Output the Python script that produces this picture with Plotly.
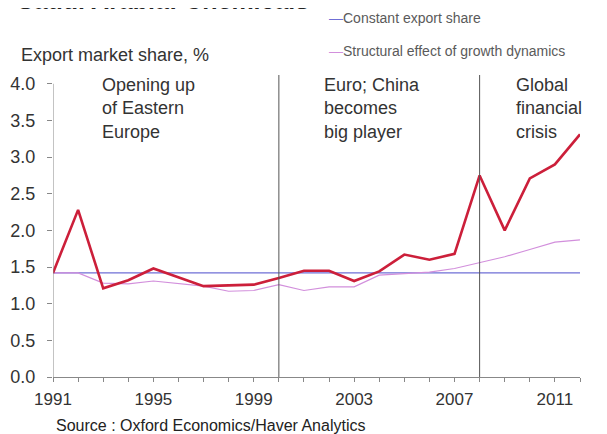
import plotly.graph_objects as go

years = list(range(1991, 2013))
actual_share = [1.42, 2.28, 1.21, 1.32, 1.48, 1.36, 1.24, 1.25, 1.26, 1.35, 1.45, 1.45,
                1.31, 1.44, 1.67, 1.60, 1.68, 2.75, 2.00, 2.71, 2.90, 3.31]
constant_share = [1.42] * 22
structural_effect = [1.42, 1.42, 1.28, 1.27, 1.31, 1.27, 1.24, 1.17, 1.18, 1.26, 1.18, 1.23,
                     1.23, 1.39, 1.41, 1.43, 1.48, 1.56, 1.64, 1.74, 1.84, 1.87]
tick_years = [1991, 1995, 1999, 2003, 2007, 2011]
event_years = [2000, 2008]
event_labels = [(1992.86, "Opening up<br>of Eastern<br>Europe"),
                (2001.72, "Euro; China<br>becomes<br>big player"),
                (2009.37, "Global<br>financial<br>crisis")]

FONT = "Liberation Sans, Arial, sans-serif"
TXT = "#333333"
BLUE = "#6f6fd6"
PURPLE = "#d28fdc"
RED = "#cc1f3a"

fig = go.Figure()
fig.add_trace(go.Scatter(x=years, y=constant_share, mode="lines",
                         line=dict(color=BLUE, width=1.2), name="Constant export share"))
fig.add_trace(go.Scatter(x=years, y=structural_effect, mode="lines",
                         line=dict(color=PURPLE, width=1.2), name="Structural effect of growth dynamics"))
fig.add_trace(go.Scatter(x=years, y=actual_share, mode="lines",
                         line=dict(color=RED, width=2.6), name="Actual"))

shapes = []
for ey in event_years:
    shapes.append(dict(type="line", xref="x", yref="paper", x0=ey, x1=ey, y0=0, y1=1,
                       line=dict(color="#555555", width=1)))
# y axis line up to 4.0
shapes.append(dict(type="line", xref="x", yref="y", x0=1991, x1=1991, y0=0, y1=4.0,
                   line=dict(color="#888888", width=1)))

annotations = []
for x, t in event_labels:
    annotations.append(dict(x=x, y=1.0, xref="x", yref="paper", yshift=2, text=t, showarrow=False,
                            xanchor="left", yanchor="top", align="left",
                            font=dict(family=FONT, size=18, color=TXT)))
annotations.append(dict(x=0.0, y=1.0, xref="paper", yref="paper", xanchor="left", xshift=-34,
                        yanchor="middle", yshift=20, text="Export market share, %",
                        showarrow=False, font=dict(family=FONT, size=18, color=TXT)))
annotations.append(dict(xref="paper", yref="paper", x=0.0, xshift=-38, y=1.0, yshift=58.5,
                        xanchor="left", yanchor="bottom", text="<b>Saudi Arabia: Chemicals</b>",
                        showarrow=False, font=dict(family=FONT, size=25, color="#222222")))
annotations.append(dict(xref="paper", yref="paper", x=0.0, xshift=274, y=1.0, yshift=57,
                        xanchor="left", yanchor="middle",
                        text="<span style='color:%s'>—</span>Constant export share" % BLUE,
                        showarrow=False, font=dict(family=FONT, size=14, color="#5a5a5a")))
annotations.append(dict(xref="paper", yref="paper", x=0.0, xshift=274, y=1.0, yshift=24,
                        xanchor="left", yanchor="middle",
                        text="<span style='color:%s'>—</span>Structural effect of growth dynamics" % PURPLE,
                        showarrow=False, font=dict(family=FONT, size=14, color="#5a5a5a")))
annotations.append(dict(xref="paper", yref="paper", x=0.0, xshift=1, y=0.0, yshift=-48,
                        xanchor="left", yanchor="middle", text="Source : Oxford Economics/Haver Analytics",
                        showarrow=False, font=dict(family=FONT, size=16, color="#222222")))

fig.update_layout(
    width=607, height=434,
    margin=dict(l=45, r=35, t=67, b=65),
    paper_bgcolor="white", plot_bgcolor="white",
    showlegend=False,
    font=dict(family=FONT, size=17, color=TXT),
    shapes=shapes, annotations=annotations,
    xaxis=dict(range=[1991, 2012], tickmode="array", tickvals=years,
               ticktext=[str(y) if y in tick_years else "" for y in years],
               ticks="outside", ticklen=4, tickcolor="#888888",
               showline=True, linecolor="#888888", linewidth=1,
               showgrid=False, zeroline=False, ticklabelstandoff=3, automargin=False,
               tickfont=dict(family=FONT, size=17, color=TXT)),
    yaxis=dict(range=[0, 4.12], tickmode="array", tickvals=[0, 0.5, 1, 1.5, 2, 2.5, 3, 3.5, 4],
               ticktext=["0.0", "0.5", "1.0", "1.5", "2.0", "2.5", "3.0", "3.5", "4.0"],
               ticks="outside", ticklen=5, tickcolor="#888888", automargin=False,
               showline=False, showgrid=False, zeroline=False, ticklabelstandoff=8,
               tickfont=dict(family=FONT, size=18, color=TXT)),
)
fig.write_html("out.html")
